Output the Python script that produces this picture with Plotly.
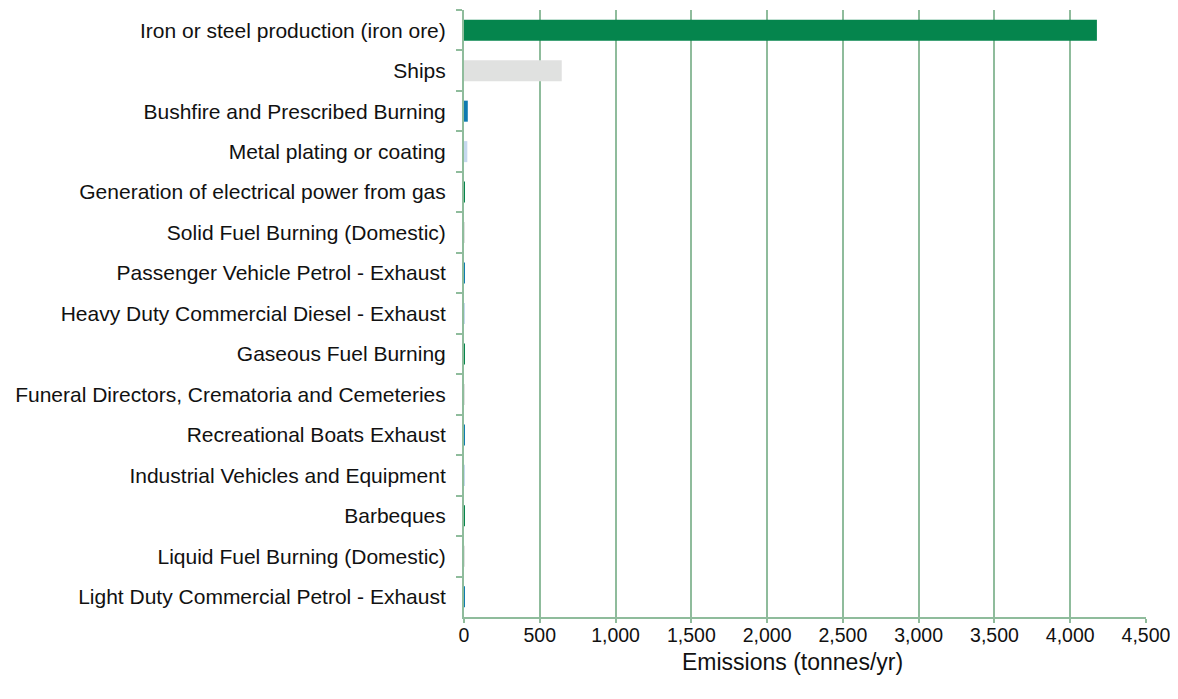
import plotly.graph_objects as go

categories = [
    "Iron or steel production (iron ore)",
    "Ships",
    "Bushfire and Prescribed Burning",
    "Metal plating or coating",
    "Generation of electrical power from gas",
    "Solid Fuel Burning (Domestic)",
    "Passenger Vehicle Petrol - Exhaust",
    "Heavy Duty Commercial Diesel - Exhaust",
    "Gaseous Fuel Burning",
    "Funeral Directors, Crematoria and Cemeteries",
    "Recreational Boats Exhaust",
    "Industrial Vehicles and Equipment",
    "Barbeques",
    "Liquid Fuel Burning (Domestic)",
    "Light Duty Commercial Petrol - Exhaust",
]
values = [4176, 645, 25, 22, 0.5, 0.4, 0.3, 0.3, 0.2, 0.2, 0.1, 0.1, 0.1, 0.05, 0.05]
bar_colors = ["#05854D", "#E0E1E0", "#0E7BB0", "#C6D9EF", "#05854D", "#E0E1E0",
              "#0E7BB0", "#C6D9EF", "#05854D", "#E0E1E0", "#0E7BB0", "#C6D9EF",
              "#05854D", "#E0E1E0", "#0E7BB0"]
x_ticks = [0, 500, 1000, 1500, 2000, 2500, 3000, 3500, 4000, 4500]

grid_color = "#8FBC9C"

fig = go.Figure(go.Bar(
    x=values, y=categories, orientation="h",
    marker=dict(color=bar_colors, line=dict(width=0)),
))

fig.update_layout(
    width=1170, height=691,
    margin=dict(l=456, r=32, t=2, b=82),
    paper_bgcolor="white", plot_bgcolor="white",
    font=dict(family="Liberation Sans, Arial, sans-serif", size=21, color="#111111"),
    bargap=0.48,
    showlegend=False,
    annotations=[dict(
        text="Emissions (tonnes/yr)", xref="paper", yref="paper",
        x=0.4824, y=-0.0741, xanchor="center", yanchor="middle",
        showarrow=False, font=dict(size=23),
    )],
)
fig.update_xaxes(
    range=[0, 4500], tickvals=x_ticks,
    ticktext=[f"{v:,}" for v in x_ticks],
    tickfont=dict(size=19.5),
    showgrid=True, gridcolor=grid_color, gridwidth=2,
    showline=True, linecolor=grid_color, linewidth=2,
    ticks="outside", ticklen=4, tickcolor=grid_color, tickwidth=2,
    zeroline=False, automargin=False,
    ticklabelstandoff=-4,
)
fig.update_yaxes(
    autorange="reversed", type="category",
    showgrid=False, showline=True, linecolor=grid_color, linewidth=2,
    ticks="outside", tickson="boundaries", ticklen=6, tickcolor=grid_color, tickwidth=2,
    ticklabelstandoff=12, automargin=False,
)

fig.write_html("out.html")
